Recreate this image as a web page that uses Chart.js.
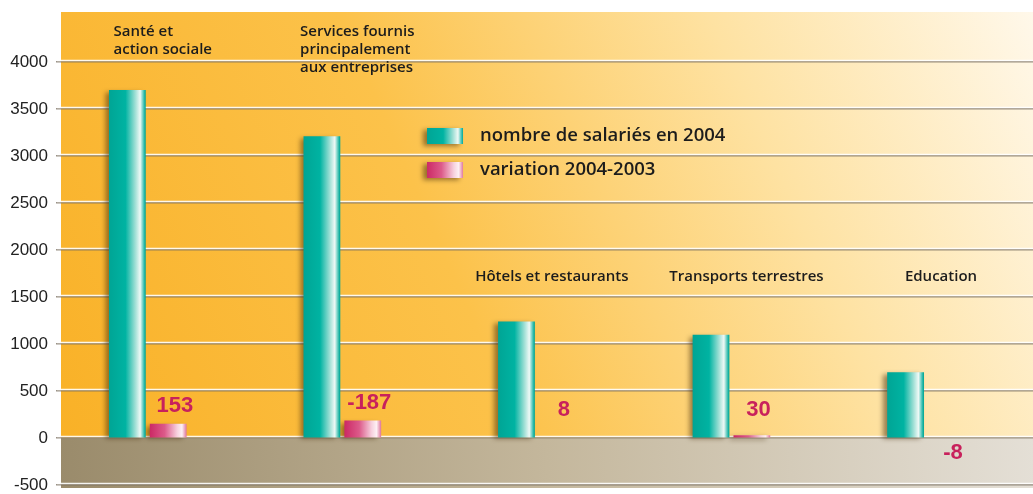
<!DOCTYPE html>
<html>
<head>
<meta charset="utf-8">
<script src="https://cdn.jsdelivr.net/npm/chart.js@4/dist/chart.umd.min.js"></script>
<style>
  html, body { margin: 0; padding: 0; background: #fff; }
  #wrap { width: 1033px; height: 494px; }
</style>
</head>
<body>
<div id="wrap"><canvas id="salChart"></canvas></div>
<script>
const categories = [
  ["Santé et", "action sociale"],
  ["Services fournis", "principalement", "aux entreprises"],
  ["Hôtels et restaurants"],
  ["Transports terrestres"],
  ["Education"]
];
const salaries = [3700, 3210, 1240, 1100, 700];
const variation = [153, -187, 8, 30, -8];
const yTicks = [-500, 0, 500, 1000, 1500, 2000, 2500, 3000, 3500, 4000];
const seriesNames = ["nombre de salariés en 2004", "variation 2004-2003"];

const tealStops = [[0, "#00a595"], [0.45, "#00b3a2"], [0.72, "#9edfd5"], [0.86, "#eef9f6"], [0.95, "#4fc6b8"], [1, "#00a898"]];
const pinkStops = [[0, "#cc2a66"], [0.4, "#dc5a8a"], [0.75, "#f7d2df"], [0.88, "#fdf0f4"], [1, "#e07aa0"]];

function barGradient(ctx, stops, slot) {
  const chart = ctx.chart;
  const xs = chart.scales.x;
  if (!chart.chartArea || !xs) return stops[0][1];
  const c = xs.getPixelForValue(ctx.dataIndex) + slot * 20.5;
  const g = chart.ctx.createLinearGradient(c - 18, 0, c + 18, 0);
  stops.forEach(s => g.addColorStop(s[0], s[1]));
  return g;
}

const bgPlugin = {
  id: "bg",
  beforeDraw(chart) {
    const { ctx, chartArea: a, scales } = chart;
    const z = scales.y.getPixelForValue(0);
    ctx.save();
    let g = ctx.createLinearGradient(a.left, z, a.right, a.top);
    g.addColorStop(0, "#f9b127");
    g.addColorStop(0.4, "#fcc24a");
    g.addColorStop(0.72, "#fee2a2");
    g.addColorStop(1, "#fff8ea");
    ctx.fillStyle = g;
    ctx.fillRect(a.left, a.top, a.right - a.left, z - a.top);
    g = ctx.createLinearGradient(a.left, a.bottom, a.right, z);
    g.addColorStop(0, "#9a8b6b");
    g.addColorStop(0.5, "#c4b79c");
    g.addColorStop(1, "#e4dfd6");
    ctx.fillStyle = g;
    ctx.fillRect(a.left, z, a.right - a.left, a.bottom - z);
    ctx.restore();
  },
  beforeDatasetsDraw(chart) {
    const { ctx, chartArea: a, scales } = chart;
    ctx.save();
    ctx.strokeStyle = "rgba(255,255,255,0.9)";
    ctx.lineWidth = 1.5;
    yTicks.forEach(v => {
      const y = Math.round(scales.y.getPixelForValue(v)) - 1.5;
      ctx.beginPath();
      ctx.moveTo(a.left - 4, y);
      ctx.lineTo(a.right, y);
      ctx.stroke();
    });
    ctx.shadowColor = "rgba(70,45,10,0.55)";
    ctx.shadowOffsetX = -4;
    ctx.shadowOffsetY = 2;
    ctx.shadowBlur = 5;
  },
  afterDatasetsDraw(chart) {
    chart.ctx.restore();
  },
  afterDraw(chart) {
    const { ctx, chartArea: a, scales } = chart;
    const xs = scales.x, ys = scales.y;
    ctx.save();
    // category names
    ctx.fillStyle = "#1c1c1c";
    ctx.font = "600 15px 'Open Sans'";
    ctx.textBaseline = "middle";
    ctx.textAlign = "left";
    categories.forEach((lines, i) => {
      const w = Math.max(...lines.map(l => ctx.measureText(l).width));
      const x0 = xs.getPixelForValue(i) + 15 - w / 2;
      const y0 = salaries[i] > 1720 ? a.top + 20 : ys.getPixelForValue(1720);
      lines.forEach((l, k) => ctx.fillText(l, x0, y0 + k * 18));
    });
    // variation values
    ctx.fillStyle = "#c8215c";
    ctx.font = "bold 22px 'Liberation Sans'";
    ctx.textAlign = "center";
    const z = ys.getPixelForValue(0);
    variation.forEach((v, i) => {
      const x = xs.getPixelForValue(i) + 27;
      const top = ys.getPixelForValue(Math.abs(v));
      const y = (v < 0 && z - top < 2) ? z + 15 : Math.min(top - 18, z - 28);
      ctx.fillText(String(v), x, y);
    });
    // legend
    const lx = 427, ly = [136, 170];
    [tealStops, pinkStops].forEach((stops, k) => {
      const g = ctx.createLinearGradient(lx, 0, lx + 36, 0);
      stops.forEach(s => g.addColorStop(s[0], s[1]));
      ctx.save();
      ctx.shadowColor = "rgba(70,45,10,0.55)";
      ctx.shadowOffsetX = -4;
      ctx.shadowOffsetY = 2;
      ctx.shadowBlur = 5;
      ctx.fillStyle = g;
      ctx.fillRect(lx, ly[k] - 8, 36, 16);
      ctx.restore();
      ctx.fillStyle = "#1c1c1c";
      ctx.font = "600 18.5px 'Open Sans'";
      ctx.textAlign = "left";
      ctx.fillText(seriesNames[k], 480, ly[k]);
    });
    ctx.restore();
  }
};

const ctx = document.getElementById("salChart").getContext("2d");

new Chart(ctx, {
  type: "bar",
  data: {
    datasets: [{
      label: seriesNames[0],
      data: salaries.map((v, i) => ({ x: i, y: v })),
      backgroundColor: c => barGradient(c, tealStops, -1),
      barPercentage: 0.9,
      categoryPercentage: 0.42
    }, {
      label: seriesNames[1],
      data: variation.map((v, i) => ({ x: i, y: Math.abs(v) })),
      backgroundColor: c => barGradient(c, pinkStops, 1),
      barPercentage: 0.9,
      categoryPercentage: 0.42
    }]
  },
  options: {
    responsive: true,
    maintainAspectRatio: false,
    animation: false,
    layout: { padding: { top: 12, bottom: 6, left: 0, right: 0 } },
    plugins: {
      legend: { display: false },
      tooltip: { enabled: false }
    },
    scales: {
      x: {
        type: "linear",
        min: -0.446,
        max: 4.55,
        offset: false,
        afterBuildTicks: s => { s.ticks = categories.map((c, i) => ({ value: i })); },
        display: false
      },
      y: {
        min: -530,
        max: 4530,
        afterBuildTicks: s => { s.ticks = yTicks.map(v => ({ value: v })); },
        afterFit: s => { s.width = 61; s.paddingTop = 0; s.paddingBottom = 0; },
        border: { display: false },
        grid: {
          color: "rgba(120,110,95,0.75)",
          lineWidth: 1.5,
          tickLength: 5,
          drawOnChartArea: true
        },
        ticks: {
          color: "#222",
          padding: 8,
          callback: v => String(v),
          font: { family: "'Liberation Sans'", size: 17 }
        }
      }
    }
  },
  plugins: [bgPlugin]
});
</script>
</body>
</html>
